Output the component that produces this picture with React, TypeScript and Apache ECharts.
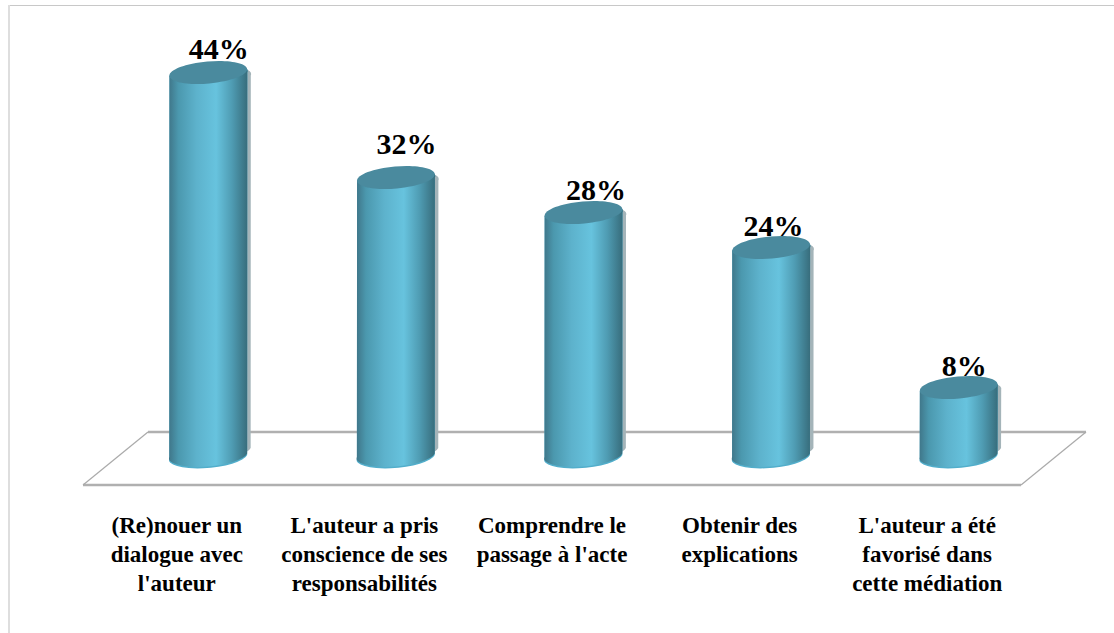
import React, { useEffect, useRef } from "react";
import * as echarts from "echarts";

const categories = [
  "(Re)nouer un\ndialogue avec\nl'auteur",
  "L'auteur a pris\nconscience de ses\nresponsabilités",
  "Comprendre le\npassage à l'acte",
  "Obtenir des\nexplications",
  "L'auteur a été\nfavorisé dans\ncette médiation",
];
const values = [44, 32, 28, 24, 8];
const labelNudgeX = [10.5, 10.5, 12.5, 2.5, 5.5];
const labelNudgeY = [-24, -34, -23, -22, -22];

const DEPTH_X = 31.5;
const RX = 39;
const RY = 11;
const TILT = -5;

function bodyPath(cx: number, top: number, bottom: number) {
  const rad = (TILT * Math.PI) / 180;
  const dx = RX * Math.cos(rad);
  const dy = RX * Math.sin(rad);
  return `M${cx - dx} ${top - dy} A${RX} ${RY} ${TILT} 0 1 ${cx + dx} ${top + dy} L${cx + dx} ${bottom + dy} A${RX} ${RY} ${TILT} 0 1 ${cx - dx} ${bottom - dy} Z`;
}

function renderItem(params: any, api: any) {
  const i = params.dataIndex;
  const top = api.coord([i, api.value(1)]);
  const base = api.coord([i, 0]);
  const cx = top[0] + DEPTH_X;
  const side = new echarts.graphic.LinearGradient(0, 0, 1, 0, [
    { offset: 0, color: "#3f7689" },
    { offset: 0.12, color: "#4b98ae" },
    { offset: 0.35, color: "#5db2cc" },
    { offset: 0.6, color: "#67c3de" },
    { offset: 0.8, color: "#4f9cb3" },
    { offset: 1, color: "#376c7b" },
  ]);
  return {
    type: "group",
    children: [
      { type: "path", shape: { pathData: bodyPath(cx + 3.5, top[1] + 3, base[1] - 6) }, style: { fill: "#a4b4b9" } },
      { type: "path", shape: { pathData: bodyPath(cx, top[1], base[1] + 1) }, style: { fill: "#52aecb" } },
      { type: "path", shape: { pathData: bodyPath(cx, top[1], base[1] - 0.5) }, style: { fill: side } },
      { type: "ellipse", x: cx, y: top[1], rotation: (-TILT * Math.PI) / 180, shape: { cx: 0, cy: 0, rx: RX, ry: RY }, style: { fill: "#4a8a9e" } },
      {
        type: "text",
        x: cx + labelNudgeX[i],
        y: top[1] + labelNudgeY[i],
        style: {
          text: values[i] + "%",
          fill: "#000",
          font: 'bold 30px "Liberation Serif"',
          align: "center",
          verticalAlign: "middle",
        },
      },
    ],
  };
}

export default function App() {
  const ref = useRef<HTMLDivElement>(null);
  useEffect(() => {
    const chart = echarts.init(ref.current!, undefined, { renderer: "svg" });
    chart.setOption({
      animation: false,
      backgroundColor: "#fff",
      grid: { left: 83, width: 938, top: 20, height: 437.5 },
      xAxis: {
        type: "category",
        data: categories,
        axisLine: { show: false },
        axisTick: { show: false },
        axisLabel: {
          interval: 0,
          margin: 53,
          color: "#000",
          fontFamily: "Liberation Serif",
          fontWeight: "bold",
          fontSize: 23,
          lineHeight: 29,
          verticalAlign: "top",
        },
      },
      yAxis: { type: "value", min: 0, max: 50, show: false, splitLine: { show: false } },
      graphic: [
        { type: "line", shape: { x1: 8, y1: 5.5, x2: 1114, y2: 5.5 }, style: { stroke: "#c8c8c8", lineWidth: 1 }, silent: true },
        { type: "line", shape: { x1: 9, y1: 5, x2: 9, y2: 633 }, style: { stroke: "#dedede", lineWidth: 2 }, silent: true },
        { type: "line", z: -1, shape: { x1: 83, y1: 485, x2: 1021, y2: 485 }, style: { stroke: "#b0b0b0", lineWidth: 2.5 }, silent: true },
        { type: "line", z: -1, shape: { x1: 148, y1: 432, x2: 1086, y2: 432 }, style: { stroke: "#b0b0b0", lineWidth: 2.5 }, silent: true },
        { type: "line", z: -1, shape: { x1: 83, y1: 485, x2: 148, y2: 432 }, style: { stroke: "#aaaaaa", lineWidth: 1.2 }, silent: true },
        { type: "line", z: -1, shape: { x1: 1021, y1: 485, x2: 1086, y2: 432 }, style: { stroke: "#aaaaaa", lineWidth: 1.2 }, silent: true },
      ],
      series: [
        {
          type: "custom",
          renderItem,
          data: values.map((v, i) => [i, v]),
          encode: { x: 0, y: 1 },
          clip: false,
          silent: true,
        },
      ],
    });
    return () => chart.dispose();
  }, []);
  return <div ref={ref} style={{ position: "fixed", left: 0, top: 0, width: 1114, height: 633 }} />;
}
